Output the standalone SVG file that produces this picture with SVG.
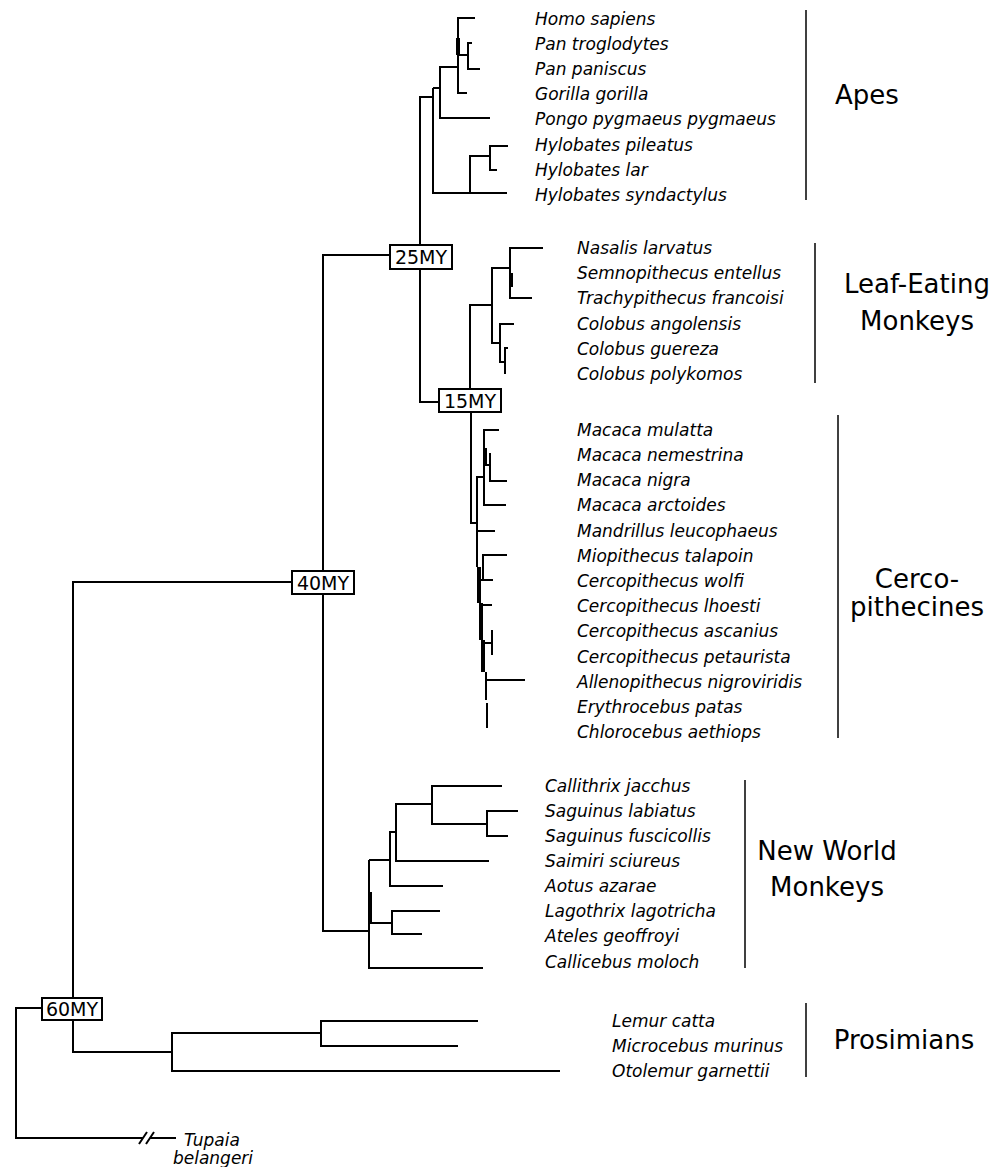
<svg xmlns="http://www.w3.org/2000/svg" width="1003" height="1167" viewBox="0 0 1003 1167">
<style>
.b{fill:none;stroke:#000;stroke-width:2}
.t{fill:none;stroke:#000;stroke-width:4}
.bar{fill:none;stroke:#000;stroke-width:1.5}
.sp{font-family:"DejaVu Sans",sans-serif;font-style:italic;font-size:17px;fill:#000}
.g{font-family:"DejaVu Sans",sans-serif;font-size:26px;fill:#000;text-anchor:middle}
.box{fill:#fff;stroke:#000;stroke-width:2}
.bt{font-family:"DejaVu Sans",sans-serif;font-size:19px;fill:#000;text-anchor:middle}
</style>
<rect width="1003" height="1167" fill="#fff"/>
<g id="connectors">
<!-- root -->
<path class="b" d="M42,1008 H16 V1138 H143"/>
<path class="b" d="M150,1138 H176"/>
<path class="b" d="M139,1144 L147,1132 M146,1144 L154,1132"/>
<path class="b" d="M292,582 H73 V1052 H172"/>
<!-- prosimians -->
<path class="b" d="M560,1071 H172 V1033 H321"/>
<path class="b" d="M478,1021 H321 V1046 H458"/>
<!-- 40MY to NW -->
<path class="b" d="M390,255 H323 V931 H369"/>
<!-- 25MY -->
<path class="b" d="M433,97 H420 V402 H439"/>
<!-- apes -->
<path class="b" d="M433,88 V193 H507"/>
<path class="b" d="M433,88 H440"/>
<path class="b" d="M458,67 H440 V118 H490"/>
<path class="b" d="M475,18 H458 V93 H467"/>
<path class="t" d="M458,38 V55"/>
<path class="b" d="M458,55 H468"/>
<path class="b" d="M472,43 H468 V69 H480"/>
<path class="b" d="M470,193 V156 H490"/>
<path class="b" d="M508,146 H490 V170 H497"/>
<!-- leaf-eating -->
<path class="b" d="M470,389 V305 H492"/>
<path class="b" d="M500,343 H492 V268 H510"/>
<path class="b" d="M543,248 H510 V298 H532"/>
<path class="t" d="M511,273 V287"/>
<path class="b" d="M514,324 H500 V362 H505"/>
<path class="b" d="M508,348 H505 V374"/>
<!-- cercopithecines -->
<path class="b" d="M471,412 V523 H477"/>
<path class="b" d="M484,477 H477 V567"/>
<path class="b" d="M499,430 H484 V505 H506"/>
<path class="t" d="M485,448 V465"/>
<path class="b" d="M484,465 H490"/>
<path class="b" d="M490,453 V481 H507"/>
<path class="b" d="M478,531 H495"/>
<path class="b" d="M507,555 H483 V580"/>
<path class="t" d="M479,567 V603 M481,603 V640 M483,640 V672"/>
<path class="b" d="M486,672 V700 M487,703 V728"/>
<path class="b" d="M481,580 H493"/>
<path class="b" d="M481,605 H492"/>
<path class="b" d="M483,643 H492"/>
<path class="b" d="M492,630 V655"/>
<path class="b" d="M486,680 H525"/>
<!-- new world -->
<path class="b" d="M369,860 V968 H483"/>
<path class="t" d="M370,892 V922"/>
<path class="b" d="M369,860 H390"/>
<path class="b" d="M396,832 H390 V886 H443"/>
<path class="b" d="M432,804 H396 V861 H489"/>
<path class="b" d="M502,786 H432 V824 H487"/>
<path class="b" d="M518,811 H487 V836 H508"/>
<path class="b" d="M370,923 H392"/>
<path class="b" d="M440,911 H392 V934 H422"/>
</g>
<g id="node-60MY"><rect class="box" x="42" y="998" width="60" height="22"/><text class="bt" x="72" y="1016">60MY</text></g>
<g id="node-40MY"><rect class="box" x="292" y="571" width="62" height="23"/><text class="bt" x="323" y="590">40MY</text></g>
<g id="node-25MY"><rect class="box" x="390" y="245" width="62" height="24"/><text class="bt" x="421" y="264">25MY</text></g>
<g id="node-15MY"><rect class="box" x="439" y="389" width="62" height="23"/><text class="bt" x="470" y="408">15MY</text></g>
<g id="apes">
<text class="sp" x="535" y="25">Homo sapiens</text>
<text class="sp" x="535" y="50">Pan troglodytes</text>
<text class="sp" x="535" y="75">Pan paniscus</text>
<text class="sp" x="535" y="100">Gorilla gorilla</text>
<text class="sp" x="535" y="125">Pongo pygmaeus pygmaeus</text>
<text class="sp" x="535" y="151">Hylobates pileatus</text>
<text class="sp" x="535" y="176">Hylobates lar</text>
<text class="sp" x="535" y="201">Hylobates syndactylus</text>
<path class="bar" d="M806,10 V200"/>
<text class="g" x="867" y="104">Apes</text>
</g>
<g id="leaf-eating">
<text class="sp" x="577" y="254">Nasalis larvatus</text>
<text class="sp" x="577" y="279">Semnopithecus entellus</text>
<text class="sp" x="577" y="304">Trachypithecus francoisi</text>
<text class="sp" x="577" y="330">Colobus angolensis</text>
<text class="sp" x="577" y="355">Colobus guereza</text>
<text class="sp" x="577" y="380">Colobus polykomos</text>
<path class="bar" d="M815,243 V383"/>
<text class="g" x="917" y="293">Leaf-Eating</text>
<text class="g" x="917" y="330">Monkeys</text>
</g>
<g id="cercopithecines">
<text class="sp" x="577" y="436">Macaca mulatta</text>
<text class="sp" x="577" y="461">Macaca nemestrina</text>
<text class="sp" x="577" y="486">Macaca nigra</text>
<text class="sp" x="577" y="511">Macaca arctoides</text>
<text class="sp" x="577" y="537">Mandrillus leucophaeus</text>
<text class="sp" x="577" y="562">Miopithecus talapoin</text>
<text class="sp" x="577" y="587">Cercopithecus wolfi</text>
<text class="sp" x="577" y="612">Cercopithecus lhoesti</text>
<text class="sp" x="577" y="637">Cercopithecus ascanius</text>
<text class="sp" x="577" y="663">Cercopithecus petaurista</text>
<text class="sp" x="577" y="688">Allenopithecus nigroviridis</text>
<text class="sp" x="577" y="713">Erythrocebus patas</text>
<text class="sp" x="577" y="738">Chlorocebus aethiops</text>
<path class="bar" d="M838,415 V738"/>
<text class="g" x="917" y="588">Cerco-</text>
<text class="g" x="917" y="616">pithecines</text>
</g>
<g id="new-world">
<text class="sp" x="545" y="792">Callithrix jacchus</text>
<text class="sp" x="545" y="817">Saguinus labiatus</text>
<text class="sp" x="545" y="842">Saguinus fuscicollis</text>
<text class="sp" x="545" y="867">Saimiri sciureus</text>
<text class="sp" x="545" y="892">Aotus azarae</text>
<text class="sp" x="545" y="917">Lagothrix lagotricha</text>
<text class="sp" x="545" y="942">Ateles geoffroyi</text>
<text class="sp" x="545" y="968">Callicebus moloch</text>
<path class="bar" d="M745,780 V968"/>
<text class="g" x="827" y="860">New World</text>
<text class="g" x="827" y="896">Monkeys</text>
</g>
<g id="prosimians">
<text class="sp" x="612" y="1027">Lemur catta</text>
<text class="sp" x="612" y="1052">Microcebus murinus</text>
<text class="sp" x="612" y="1077">Otolemur garnettii</text>
<path class="bar" d="M806,1003 V1077"/>
<text class="g" x="904" y="1049">Prosimians</text>
</g>
<g id="outgroup">
<text class="sp" x="212" y="1146" text-anchor="middle">Tupaia</text>
<text class="sp" x="213" y="1164" text-anchor="middle">belangeri</text>
</g>
</svg>
